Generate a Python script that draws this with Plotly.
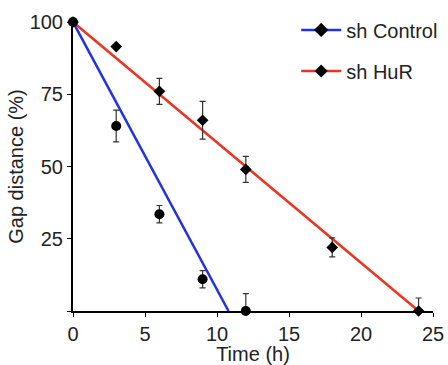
import plotly.graph_objects as go

time_ctrl = [0, 3, 6, 9, 12]
gap_ctrl = [100, 64, 33.5, 11, 0]
err_ctrl = [0, 5.5, 3, 3, 6]

time_hur = [0, 3, 6, 9, 12, 18, 24]
gap_hur = [100, 91.5, 76, 66, 49, 22, 0]
err_hur = [0, 0, 4.5, 6.5, 4.5, 3.3, 4.5]

fit_ctrl_x = [0, 10.8]
fit_ctrl_y = [100, 0]
fit_hur_x = [0, 24]
fit_hur_y = [100, 0]

BLUE = "#2233dd"
RED = "#ee3322"
FONT = "Liberation Sans, Arial, sans-serif"

fig = go.Figure()
fig.add_trace(go.Scatter(x=fit_ctrl_x, y=fit_ctrl_y, mode="lines",
                         line=dict(color=BLUE, width=2.5), showlegend=False, cliponaxis=False))
fig.add_trace(go.Scatter(x=fit_hur_x, y=fit_hur_y, mode="lines",
                         line=dict(color=RED, width=2.5), showlegend=False, cliponaxis=False))
fig.add_trace(go.Scatter(x=time_ctrl, y=gap_ctrl, mode="markers",
                         marker=dict(symbol="circle", size=10, color="black"),
                         error_y=dict(type="data", array=err_ctrl, color="#333333", thickness=1.2, width=3),
                         showlegend=False, cliponaxis=False))
fig.add_trace(go.Scatter(x=time_hur, y=gap_hur, mode="markers",
                         marker=dict(symbol="diamond", size=9, color="black"),
                         error_y=dict(type="data", array=err_hur, color="#333333", thickness=1.2, width=3),
                         showlegend=False, cliponaxis=False))
# legend entries
fig.add_trace(go.Scatter(x=[None], y=[None], mode="lines+markers", name="sh Control",
                         legendgroup="a",
                         line=dict(color=BLUE, width=2.5),
                         marker=dict(symbol="diamond", size=11, color="black")))
fig.add_trace(go.Scatter(x=[None], y=[None], mode="lines+markers", name="sh HuR",
                         legendgroup="b",
                         line=dict(color=RED, width=2.5),
                         marker=dict(symbol="diamond", size=10, color="black")))

fig.update_layout(
    width=448, height=365,
    margin=dict(l=73, r=15, t=22, b=54, autoexpand=False),
    paper_bgcolor="white", plot_bgcolor="white",
    font=dict(family=FONT, size=20, color="#222222"),
    legend=dict(x=0.62, y=1.04, xanchor="left", yanchor="top",
                font=dict(size=20), bgcolor="rgba(0,0,0,0)", itemwidth=40,
                traceorder="grouped", tracegroupgap=12),
    xaxis=dict(range=[0, 25], tickvals=[0, 5, 10, 15, 20, 25], showline=True,
               linecolor="black", linewidth=2, ticks="outside", ticklen=4,
               tickcolor="black", showgrid=False, zeroline=False, automargin=False,
               tickfont=dict(size=20),
               title=dict(text="Time (h)", standoff=1, font=dict(size=20))),
    yaxis=dict(range=[0, 100], tickvals=[0, 25, 50, 75, 100],
               ticktext=["", "25", "50", "75", "100"], showline=True,
               linecolor="black", linewidth=2, ticks="outside", ticklen=4,
               tickcolor="black", showgrid=False, zeroline=False, automargin=False,
               tickfont=dict(size=20),
               title=dict(text="Gap distance (%)", standoff=1, font=dict(size=20))),
)

fig.write_html("out.html", config={"displayModeBar": False},
               post_script="document.body.style.margin='0';")
